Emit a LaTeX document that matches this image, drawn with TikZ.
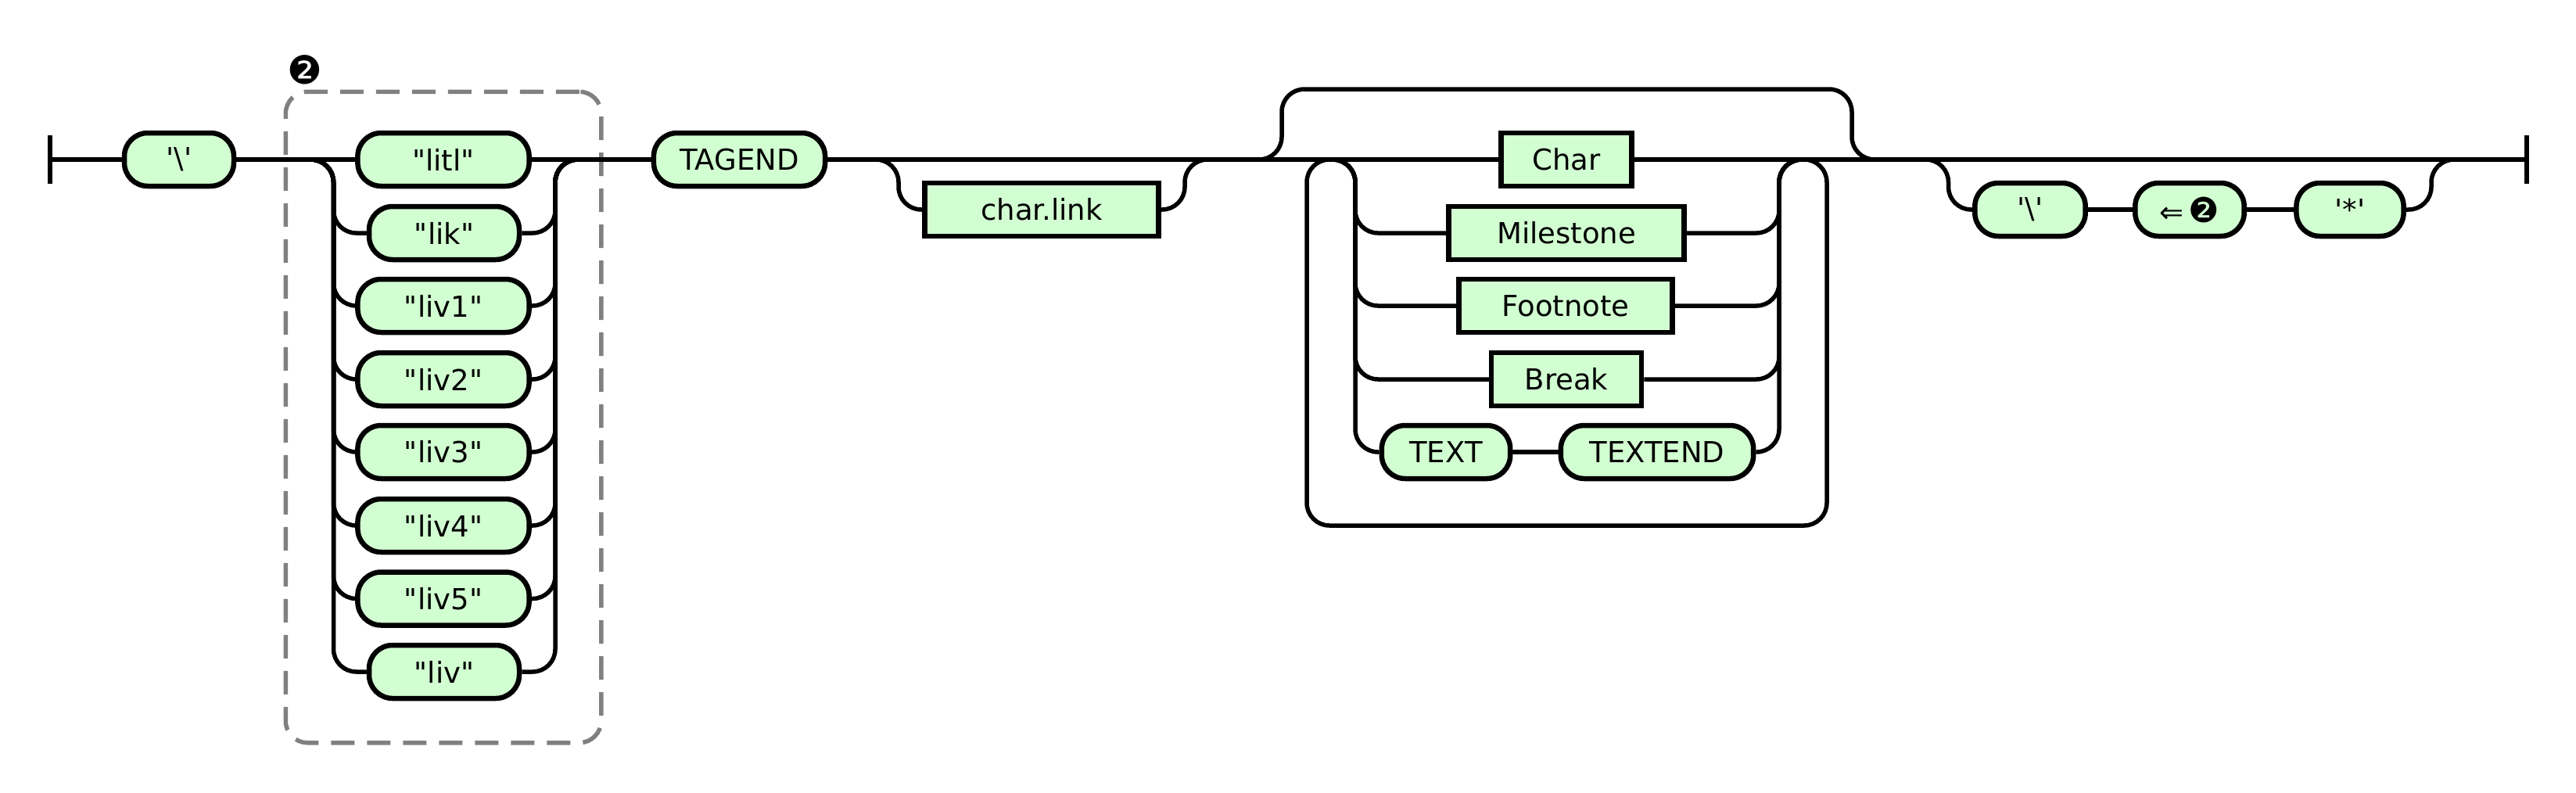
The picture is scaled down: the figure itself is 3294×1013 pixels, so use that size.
\documentclass[tikz,border=0pt]{standalone}
\usepackage{fontspec}
\usepackage{tikz}

\newfontfamily\rrfont{DejaVu Sans}
\definecolor{termfill}{RGB}{210,255,210}
\definecolor{groupgray}{RGB}{128,128,128}

\begin{document}
\begin{tikzpicture}[x=0.5pt, y=-0.5pt,
        every node/.style={inner sep=0pt, font=\rrfont\fontsize{18.5pt}{22pt}\selectfont},
        term/.style={draw, fill=termfill, line width=3.25pt, rounded corners=15pt, minimum height=34pt},
        nonterm/.style={draw, fill=termfill, line width=3.25pt, minimum height=34pt},
        groupbox/.style={draw=groupgray, line width=2.75pt, dash pattern=on 15pt off 8pt, rounded corners=14pt},
        rail/.style={line width=2.75pt, rounded corners=14.5pt}]
        \useasboundingbox (0,0) rectangle (3294,1013);

        % Group
        \node[groupbox, minimum width=201.75pt, minimum height=416.25pt] (group) at (567,533.5) {};
        \node[font=\rrfont\fontsize{25pt}{28pt}\selectfont] (grouptag) at (389.5,89) {❷};

        % Nodes
        \node[term, minimum width=70pt] (bslash) at (229,204) {'\textbackslash'};
        \node[term, minimum width=109.6pt] (litl) at (567,204) {"litl"};
        \node[term, minimum width=96pt] (lik) at (568,298) {"lik"};
        \node[term, minimum width=109.6pt] (liva) at (567,391) {"liv1"};
        \node[term, minimum width=109.6pt] (livb) at (567,485) {"liv2"};
        \node[term, minimum width=109.6pt] (livc) at (567,578) {"liv3"};
        \node[term, minimum width=109.6pt] (livd) at (567,672) {"liv4"};
        \node[term, minimum width=109.6pt] (live) at (567,765.5) {"liv5"};
        \node[term, minimum width=96pt] (liv) at (568,859) {"liv"};
        \node[term, minimum width=109.6pt] (tagend) at (945.5,204) {TAGEND};
        \node[nonterm, minimum width=149.5pt] (charlink) at (1332,268) {char.link};
        \node[nonterm, minimum width=83.3pt] (char) at (2003,204) {Char};
        \node[nonterm, minimum width=150.5pt] (milestone) at (2003,298) {Milestone};
        \node[nonterm, minimum width=136.7pt] (footnote) at (2002,391) {Footnote};
        \node[nonterm, minimum width=96pt] (break) at (2003,485) {Break};
        \node[term, minimum width=82.2pt] (text) at (1849,578) {TEXT};
        \node[term, minimum width=123.2pt] (textend) at (2119,578) {TEXTEND};
        \node[term, minimum width=70.7pt] (bslashb) at (2596,268) {'\textbackslash'};
        \node[term, minimum width=69.7pt] (back) at (2800,268) {⇐\,{\fontsize{22pt}{24pt}\selectfont ❷}};
        \node[term, minimum width=68.6pt] (star) at (3005,268) {'*'};

        % Rail points
        \coordinate (start) at (64,204);
        \coordinate (end) at (3231,204);
        \coordinate (c1in) at (395,204);
        \coordinate (c1l) at (426.5,204);
        \coordinate (c1r) at (710,204);
        \coordinate (c1out) at (741.5,204);
        \coordinate (o1in) at (1120,204);
        \coordinate (o1l) at (1149,204);
        \coordinate (o1r) at (1515,204);
        \coordinate (o1out) at (1544,204);
        \coordinate (bpin) at (1609,204);
        \coordinate (bpa) at (1639,114);
        \coordinate (bpb) at (2368,114);
        \coordinate (bpout) at (2397,204);
        \coordinate (lpin) at (1702,204);
        \coordinate (lpout) at (2306,204);
        \coordinate (lpa) at (2336,672);
        \coordinate (lpb) at (1671,672);
        \coordinate (c2l) at (1733,204);
        \coordinate (c2r) at (2275,204);
        \coordinate (o2in) at (2462,204);
        \coordinate (o2l) at (2491.5,204);
        \coordinate (o2r) at (3109,204);
        \coordinate (o2out) at (3138.5,204);

        % Main line
        \draw[rail] ([yshift=15.5pt]start) -- ([yshift=-15.5pt]start);
        \draw[rail] ([yshift=15.5pt]end) -- ([yshift=-15.5pt]end);
        \draw[rail] (start) -- (bslash.west);
        \draw[rail] (bslash.east) -- (litl.west);
        \draw[rail] (litl.east) -- (tagend.west);
        \draw[rail] (tagend.east) -- (char.west);
        \draw[rail] (char.east) -- (end);

        % First choice
        \draw[rail] (c1in) -- (c1l) |- (lik.west);
        \draw[rail] (c1in) -- (c1l) |- (liva.west);
        \draw[rail] (c1in) -- (c1l) |- (livb.west);
        \draw[rail] (c1in) -- (c1l) |- (livc.west);
        \draw[rail] (c1in) -- (c1l) |- (livd.west);
        \draw[rail] (c1in) -- (c1l) |- (live.west);
        \draw[rail] (c1in) -- (c1l) |- (liv.west);
        \draw[rail] (lik.east) -| (c1r) -- (c1out);
        \draw[rail] (liva.east) -| (c1r) -- (c1out);
        \draw[rail] (livb.east) -| (c1r) -- (c1out);
        \draw[rail] (livc.east) -| (c1r) -- (c1out);
        \draw[rail] (livd.east) -| (c1r) -- (c1out);
        \draw[rail] (live.east) -| (c1r) -- (c1out);
        \draw[rail] (liv.east) -| (c1r) -- (c1out);

        % Optional char.link
        \draw[rail] (o1in) -- (o1l) |- (charlink.west);
        \draw[rail] (charlink.east) -| (o1r) -- (o1out);

        % Bypass and loop
        \draw[rail] (bpin) -| (bpa) -- (bpb) |- (bpout);
        \draw[rail] (lpout) -| (lpa) -- (lpb) |- (lpin);

        % Second choice
        \draw[rail] (lpin) -- (c2l) |- (milestone.west);
        \draw[rail] (lpin) -- (c2l) |- (footnote.west);
        \draw[rail] (lpin) -- (c2l) |- (break.west);
        \draw[rail] (lpin) -- (c2l) |- (text.west);
        \draw[rail] (milestone.east) -| (c2r) -- (lpout);
        \draw[rail] (footnote.east) -| (c2r) -- (lpout);
        \draw[rail] (break.east) -| (c2r) -- (lpout);
        \draw[rail] (textend.east) -| (c2r) -- (lpout);
        \draw[rail] (text.east) -- (textend.west);

        % Optional tail
        \draw[rail] (o2in) -- (o2l) |- (bslashb.west);
        \draw[rail] (bslashb.east) -- (back.west);
        \draw[rail] (back.east) -- (star.west);
        \draw[rail] (star.east) -| (o2r) -- (o2out);
    \end{tikzpicture}
\end{document}
